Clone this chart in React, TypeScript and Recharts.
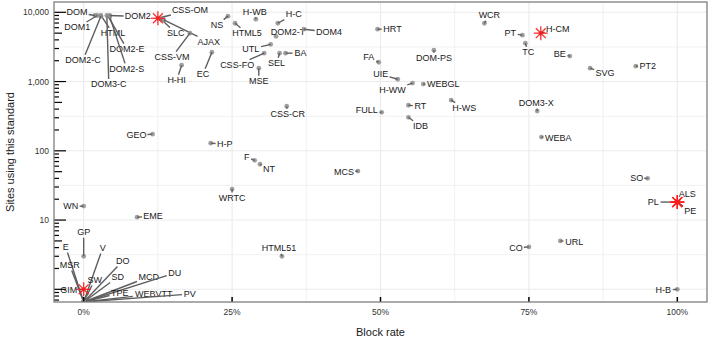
// Block rate vs. usage of web standards — log-scale scatter with repelled labels.

import { ScatterChart, Scatter, XAxis, YAxis, ReferenceLine } from 'recharts';

const CODES = [
  'DOM', 'DOM1', 'HTML', 'DOM2-C', 'DOM3-C', 'DOM2-E', 'DOM2-S', 'DOM2',
  'CSS-OM', 'SLC', 'AJAX', 'CSS-VM', 'H-HI', 'EC', 'NS', 'GEO', 'H-P',
  'H-WB', 'HTML5', 'H-C', 'DOM2-T', 'DOM4', 'UTL', 'CSS-FO', 'SEL', 'BA', 'MSE', 'CSS-CR',
  'HRT', 'FA', 'UIE', 'H-WW', 'WEBGL', 'DOM-PS', 'FULL', 'RT', 'IDB', 'H-WS',
  'WCR', 'PT', 'H-CM', 'TC', 'BE', 'SVG', 'PT2', 'DOM3-X', 'WEBA',
  'MCS', 'F', 'NT', 'WRTC', 'HTML51', 'SO', 'ALS', 'PE', 'PL', 'URL', 'CO', 'H-B',
  'WN', 'EME', 'GP', 'GIM',
  'E', 'MSR', 'V', 'DO', 'SD', 'SW', 'MCD', 'DU', 'TPE', 'WEBVTT', 'PV',
];

// block rate, percent
const BLOCK_RATE = [
  1.9, 2.3, 2.9, 2.9, 3.9, 4.1, 4.4, 4.4,
  12.5, 13.0, 13.5, 17.9, 16.5, 21.6, 24.3, 11.6, 21.4,
  29.0, 25.5, 32.7, 32.4, 37.1, 31.5, 30.4, 33.0, 34.0, 29.5, 34.2,
  49.5, 49.7, 52.9, 55.4, 57.2, 59.0, 50.2, 54.7, 54.7, 61.9,
  67.5, 73.9, 77.0, 74.4, 81.9, 85.3, 93.0, 76.4, 77.1,
  46.2, 28.8, 29.7, 25.0, 33.4, 95.0, 100, 100, 100, 80.3, 75.0, 100,
  0, 9.0, 0, 0,
  0, 0, 0, 0, 0, 0, 0, 0, 0, 0, 0,
];

// sites using the standard (0 = none, drawn on the lower edge)
const SITES = [
  9000, 9000, 9000, 8800, 9000, 8800, 8600, 9000,
  8200, 8000, 7800, 5000, 1725, 2650, 8800, 174, 129,
  7950, 6950, 6950, 4500, 5700, 3450, 2570, 2570, 2570, 1560, 440,
  5700, 1900, 1080, 950, 920, 2840, 360, 455, 305, 540,
  6950, 4680, 5000, 3580, 2330, 1560, 1670, 375, 158,
  51, 73, 64, 28, 3.0, 40, 18.2, 18.2, 18.2, 5.0, 4.1, 1,
  15.9, 11, 3.0, 1,
  0, 0, 0, 0, 0, 0, 0, 0, 0, 0, 0,
];

const HIGHLIGHT = ['CSS-OM', 'H-CM', 'GIM', 'ALS', 'PE', 'PL'];

// label placement relative to its point, px (repel result)
const LABEL_OFFSET: Record<string, [number, number]> = {
  DOM: [-18, -3], DOM1: [-20, 12], HTML: [12, 18], 'DOM2-C': [-18, 44], 'DOM3-C': [2, 69],
  'DOM2-E': [19, 33], 'DOM2-S': [17, 52], DOM2: [28, 1],
  'CSS-OM': [32, -8], SLC: [15, 14], AJAX: [45, 22], 'CSS-VM': [-18, 24], 'H-HI': [-5, 15],
  EC: [-9, 22], NS: [-11, 9], GEO: [-16, 1], 'H-P': [14, 1],
  'H-WB': [-1, -7], HTML5: [12, 10], 'H-C': [16, -9], 'DOM2-T': [12, -4], DOM4: [25, 3],
  UTL: [-20, 5], 'CSS-FO': [-27, 12], SEL: [-3, 10], BA: [15, 0], MSE: [0, 13], 'CSS-CR': [1, 8],
  HRT: [15, 0], FA: [-10, -5], UIE: [-17, -5], 'H-WW': [-20, 7], WEBGL: [20, 0], 'DOM-PS': [0, 8],
  FULL: [-15, -2], RT: [12, 1], IDB: [12, 9], 'H-WS': [13, 8],
  WCR: [5, -8], PT: [-12, -2], 'H-CM': [17, -4], TC: [3, 9], BE: [-10, -2], SVG: [15, 5],
  PT2: [12, 0], 'DOM3-X': [-1, -8], WEBA: [17, 1],
  MCS: [-14, 1], F: [-8, -3], NT: [9, 5], WRTC: [0, 9], HTML51: [-3, -8], SO: [-11, 0],
  ALS: [10, -8], PE: [13, 9], PL: [-24, 0], URL: [14, 1], CO: [-13, 1], 'H-B': [-14, 1],
  WN: [-13, 0], EME: [16, -1], GP: [0, -24], GIM: [-15, 1],
  E: [-18, -55], MSR: [-14, -37], V: [19, -54], DO: [39, -41], SD: [34, -25], SW: [11, -22],
  MCD: [65, -25], DU: [91, -29], TPE: [36, -9], WEBVTT: [70, -8], PV: [106, -8],
};

const X_DOMAIN: [number, number] = [-5, 105];
const X_TICKS = [0, 25, 50, 75, 100];
const X_GRID_MINOR = [12.5, 37.5, 62.5, 87.5];
const Y_MIN = 0.656;
const Y_MAX = 14090;
const Y_DECADES = [1, 10, 100, 1000, 10000];
const Y_LABELLED = [10, 100, 1000, 10000];
const Y_GRID_MINOR = [3.162, 31.62, 316.2, 3162];
const Y_TICKS: number[] = [];
for (let k = -1; k <= 4; k++) {
  for (let m = 1; m <= 9; m++) {
    const v = m * Math.pow(10, k);
    if (v >= Y_MIN && v <= Y_MAX) Y_TICKS.push(v);
  }
}

const W = 710;
const H = 339;
const PLOT_LEFT = 54;
const PLOT_TOP = 2;
const PLOT_RIGHT = 707;
const PLOT_BOTTOM = 302;
const FONT = '"Liberation Sans", Arial, Helvetica, sans-serif';
const LABEL_SIZE = 9;
const GRID = '#ebebeb';

function textWidth(s: string) {
  let w = 0;
  for (const c of s) {
    if (/[0-9]/.test(c)) w += 0.556;
    else if (c === '-') w += 0.333;
    else if (c === 'I') w += 0.278;
    else if (c === 'M') w += 0.833;
    else if (c === 'W') w += 0.944;
    else if (c === 'L' || c === 'T' || c === 'F' || c === 'E' || c === 'S' || c === 'P') w += 0.64;
    else w += 0.72;
  }
  return w * LABEL_SIZE;
}

function PointMark(props: any) {
  const { cx, cy, payload } = props;
  if (cx == null || cy == null) return null;
  const [dx, dy] = LABEL_OFFSET[payload.code] ?? [8, 0];
  const lx = cx + dx;
  const ly = cy + dy;
  const hw = textWidth(payload.code) / 2 + 1.5;
  const hh = 5.5;
  let seg = null;
  const vx = cx - lx;
  const vy = cy - ly;
  if (Math.abs(vx) > hw || Math.abs(vy) > hh) {
    const t = Math.min(vx !== 0 ? hw / Math.abs(vx) : Infinity, vy !== 0 ? hh / Math.abs(vy) : Infinity);
    const ex = lx + vx * t;
    const ey = ly + vy * t;
    if (Math.hypot(cx - ex, cy - ey) > 1.5) {
      seg = <line x1={cx} y1={cy} x2={ex} y2={ey} stroke="#5e5e5e" strokeWidth={1.4} />;
    }
  }
  return (
    <g>
      <circle cx={cx} cy={cy} r={2.4} fill="#8f8f8f" fillOpacity={0.85} />
      {seg}
      <text
        x={lx}
        y={ly}
        textAnchor="middle"
        dominantBaseline="central"
        fontSize={LABEL_SIZE}
        fontFamily={FONT}
        fill="#1a1a1a"
      >
        {payload.code}
      </text>
    </g>
  );
}

function StarMark(props: any) {
  const { cx, cy } = props;
  if (cx == null || cy == null) return null;
  const r = 7;
  const d = r * Math.SQRT1_2;
  return (
    <g stroke="#ff1a1a" strokeWidth={1.3} strokeOpacity={0.9}>
      <line x1={cx - r} y1={cy} x2={cx + r} y2={cy} />
      <line x1={cx} y1={cy - r} x2={cx} y2={cy + r} />
      <line x1={cx - d} y1={cy - d} x2={cx + d} y2={cy + d} />
      <line x1={cx - d} y1={cy + d} x2={cx + d} y2={cy - d} />
    </g>
  );
}

function YTick(props: any) {
  const { y, payload } = props;
  const v = payload.value;
  const mant = Math.round(v / Math.pow(10, Math.floor(Math.log10(v) + 1e-9)));
  const len = mant === 1 ? 12 : mant === 5 ? 8 : 5;
  const labelled = Y_LABELLED.some((d) => Math.abs(d - v) < 1e-6);
  return (
    <g>
      <line x1={PLOT_LEFT} x2={PLOT_LEFT + len} y1={y} y2={y} stroke="#000" strokeWidth={1.2} />
      {labelled && (
        <text
          x={PLOT_LEFT - 5}
          y={y}
          textAnchor="end"
          dominantBaseline="central"
          fontSize={8.5}
          fontFamily={FONT}
          fill="#333"
        >
          {v.toLocaleString('en-US')}
        </text>
      )}
    </g>
  );
}

function XTick(props: any) {
  const { x, payload } = props;
  return (
    <g>
      <line x1={x} x2={x} y1={PLOT_BOTTOM - 5} y2={PLOT_BOTTOM} stroke="#000" strokeWidth={1.5} />
      <text
        x={x}
        y={PLOT_BOTTOM + 10}
        textAnchor="middle"
        dominantBaseline="central"
        fontSize={8.5}
        fontFamily={FONT}
        fill="#333"
      >
        {`${payload.value}%`}
      </text>
    </g>
  );
}

export default function App() {
  const points = CODES.map((code, i) => ({
    code,
    rate: BLOCK_RATE[i],
    sites: SITES[i],
    plotSites: Math.max(SITES[i], Y_MIN),
  }));
  const stars = points.filter((p) => HIGHLIGHT.includes(p.code));

  return (
    <div style={{ position: 'relative', width: W, height: H, background: '#fff' }}>
      <style>{'body{margin:0}'}</style>
      <ScatterChart width={W} height={H} margin={{ top: PLOT_TOP, right: W - PLOT_RIGHT, bottom: 0, left: 0 }}>
        {X_GRID_MINOR.map((v) => (
          <ReferenceLine key={`xm${v}`} x={v} stroke={GRID} strokeWidth={0.7} />
        ))}
        {Y_GRID_MINOR.map((v) => (
          <ReferenceLine key={`ym${v}`} y={v} stroke={GRID} strokeWidth={0.7} />
        ))}
        {X_TICKS.map((v) => (
          <ReferenceLine key={`xM${v}`} x={v} stroke={GRID} strokeWidth={1.1} />
        ))}
        {Y_DECADES.map((v) => (
          <ReferenceLine key={`yM${v}`} y={v} stroke={GRID} strokeWidth={1.1} />
        ))}
        <XAxis
          type="number"
          dataKey="rate"
          domain={X_DOMAIN}
          ticks={X_TICKS}
          interval={0}
          height={H - PLOT_BOTTOM}
          tick={<XTick />}
          tickLine={false}
          axisLine={false}
          allowDataOverflow
        />
        <YAxis
          type="number"
          dataKey="plotSites"
          scale="log"
          domain={[Y_MIN, Y_MAX]}
          ticks={Y_TICKS}
          interval={0}
          width={PLOT_LEFT}
          tick={<YTick />}
          tickLine={false}
          axisLine={false}
          allowDataOverflow
        />
        <Scatter data={points} shape={(p: any) => <PointMark {...p} />} isAnimationActive={false} />
        <Scatter data={stars} shape={(p: any) => <StarMark {...p} />} isAnimationActive={false} />
      </ScatterChart>
      <svg
        width={W}
        height={H}
        style={{ position: 'absolute', left: 0, top: 0, pointerEvents: 'none' }}
      >
        <rect
          x={PLOT_LEFT}
          y={PLOT_TOP}
          width={PLOT_RIGHT - PLOT_LEFT}
          height={PLOT_BOTTOM - PLOT_TOP}
          fill="none"
          stroke="#7f7f7f"
          strokeWidth={1.3}
        />
        <text
          x={(PLOT_LEFT + PLOT_RIGHT) / 2}
          y={332}
          textAnchor="middle"
          dominantBaseline="central"
          fontSize={11}
          fontFamily={FONT}
          fill="#1a1a1a"
        >
          Block rate
        </text>
        <text
          x={10}
          y={(PLOT_TOP + PLOT_BOTTOM) / 2}
          textAnchor="middle"
          dominantBaseline="central"
          fontSize={11}
          fontFamily={FONT}
          fill="#1a1a1a"
          transform={`rotate(-90 10 ${(PLOT_TOP + PLOT_BOTTOM) / 2})`}
        >
          Sites using this standard
        </text>
      </svg>
    </div>
  );
}
